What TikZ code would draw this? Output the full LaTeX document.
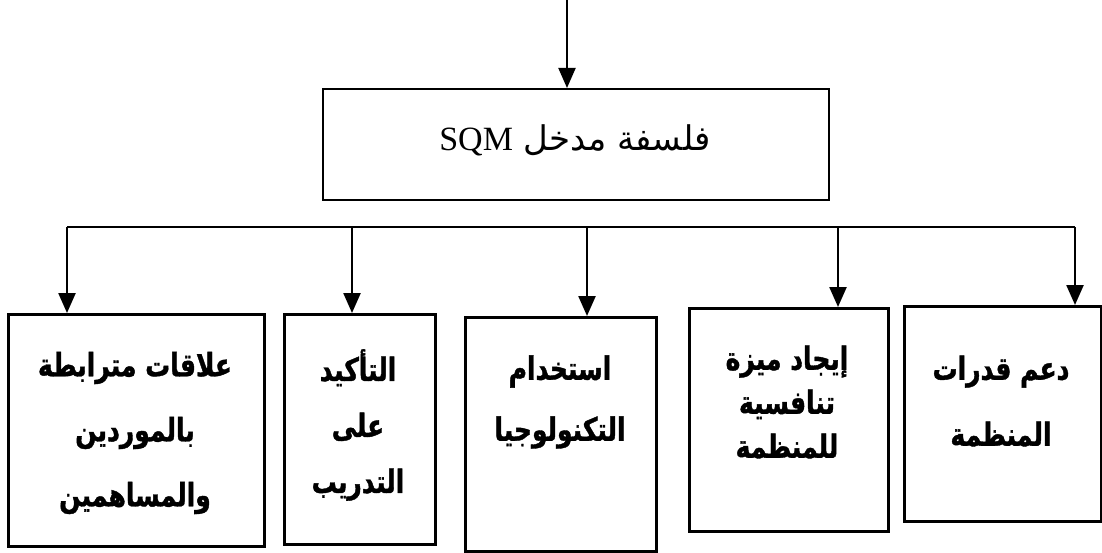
\documentclass[tikz,border=0pt]{standalone}
\usepackage{fontspec}
\setmainfont{Liberation Serif}
\newfontfamily\arabicfont[Script=Arabic]{DejaVu Sans}
\newfontfamily\arabicbf[Script=Arabic,FakeStretch=0.78,FakeBold=1.2]{DejaVu Sans}
\TeXXeTstate=1
\usetikzlibrary{arrows.meta}
\begin{document}
\begin{tikzpicture}[x=1pt,y=-1pt,
  box/.style={draw, line width=2.6pt, inner sep=0pt, anchor=north west},
  sqmbox/.style={draw, line width=2pt, inner sep=0pt, anchor=north west},
  conn/.style={line width=2.4pt},
  arr/.style={line width=2.4pt, -{Triangle[length=20pt,width=17pt]}},
  toparr/.style={line width=2pt, -{Triangle[length=20pt,width=17pt]}},
  lbl/.style={font=\arabicbf\bfseries\fontsize{32}{65}\selectfont, align=center, inner sep=0pt},
  sqmlbl/.style={font=\fontsize{34}{40}\selectfont, inner sep=0pt}]
\useasboundingbox (0,0) rectangle (1102,553);

% top box
\node[sqmbox, minimum width=506pt, minimum height=111pt] (sqm) at (322,88) {};
\node[sqmlbl] (sqmt) at (575,140) {\arabicfont\beginR فلسفة مدخل \beginL\rmfamily SQM\endL\endR};
\coordinate (top) at (567,0);
\draw[toparr] (top) -- (top |- sqm.north);

% bottom boxes
\node[box, minimum width=256pt, minimum height=232pt] (b1) at (7,313) {};
\node[box, minimum width=151pt, minimum height=230pt] (b2) at (283,313) {};
\node[box, minimum width=191pt, minimum height=234pt] (b3) at (464,316) {};
\node[box, minimum width=199pt, minimum height=223pt] (b4) at (688,307) {};
\node[box, minimum width=197pt, minimum height=215pt] (b5) at (903,305) {};

\node[lbl] (t1) at (135,433) {\beginR علاقات مترابطة\endR\\\beginR بالموردين\endR\\\beginR والمساهمين\endR};
\node[lbl, font=\arabicbf\bfseries\fontsize{32}{56}\selectfont] (t2) at (358,425) {\beginR التأكيد\endR\\\beginR على\endR\\\beginR التدريب\endR};
\node[lbl, font=\arabicbf\bfseries\fontsize{32}{61}\selectfont] (t3) at (560,402) {\beginR استخدام\endR\\\beginR التكنولوجيا\endR};
\node[lbl, font=\arabicbf\bfseries\fontsize{32}{44}\selectfont] (t4) at (787,402) {\beginR إيجاد ميزة\endR\\\beginR تنافسية\endR\\\beginR للمنظمة\endR};
\node[lbl, font=\arabicbf\bfseries\fontsize{32}{66}\selectfont] (t5) at (1001,401) {\beginR دعم قدرات\endR\\\beginR المنظمة\endR};

% bus and drops
\coordinate (d1) at (67,227);
\coordinate (d2) at (352,227);
\coordinate (d3) at (587,227);
\coordinate (d4) at (838,227);
\coordinate (d5) at (1075,227);
\draw[conn] (d1) -- (d5);
\draw[arr] (d1) -- (d1 |- b1.north);
\draw[arr] (d2) -- (d2 |- b2.north);
\draw[arr] (d3) -- (d3 |- b3.north);
\draw[arr] (d4) -- (d4 |- b4.north);
\draw[arr] (d5) -- (d5 |- b5.north);
\end{tikzpicture}
\end{document}
